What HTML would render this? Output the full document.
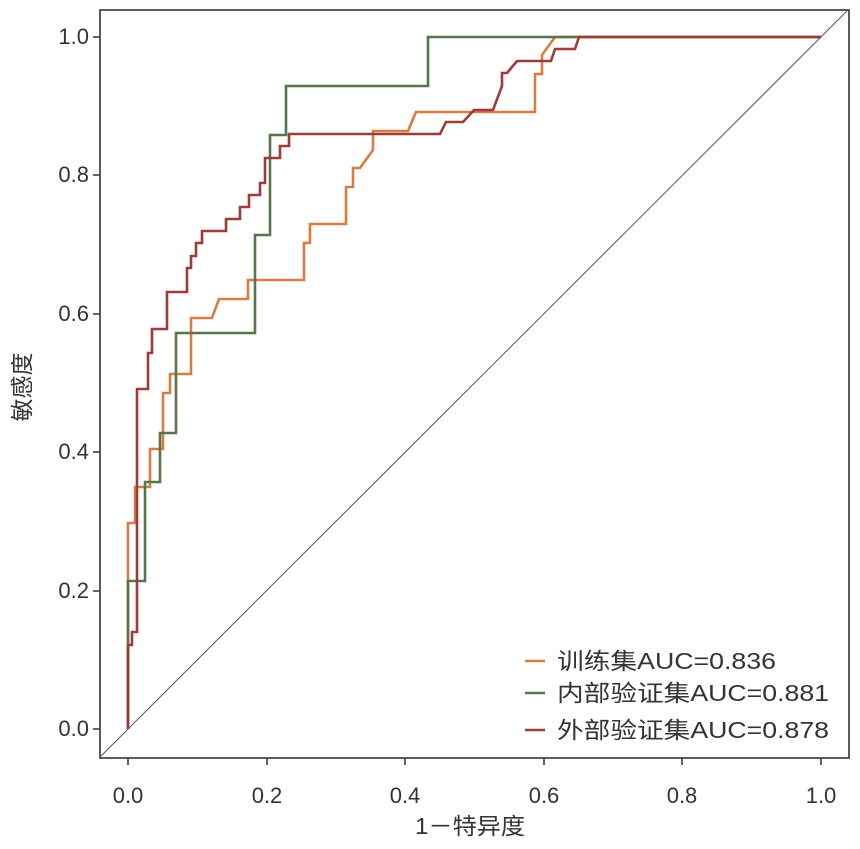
<!DOCTYPE html>
<html><head><meta charset="utf-8"><style>
html,body{margin:0;padding:0;background:#fff;}
svg{display:block;font-family:"Liberation Sans","Noto Sans CJK SC",sans-serif;}
</style></head><body>
<svg width="860" height="849" viewBox="0 0 860 849" xmlns="http://www.w3.org/2000/svg">
<defs><clipPath id="c"><rect x="101" y="11" width="748" height="746"/></clipPath></defs>
<g clip-path="url(#c)">
<line x1="100" y1="757" x2="850" y2="8" stroke="#555" stroke-width="1"/>
<polyline fill="none" stroke="#d97c43" stroke-width="2.6" stroke-linejoin="miter" points="128,729 128,523 135,523 135,487 150,487 150,449 163,449 163,393 170,393 170,374 191,374 191,318 212,318 219,299 248,299 248,280 304,280 304,243 310,243 310,224 346,224 346,187 353,187 353,168 360,168 373,150 373,131 408,131 416,112 535,112 535,74 542,74 542,55 555,37 821,37"/>
<polyline fill="none" stroke="#55754a" stroke-width="2.6" points="128,729 128,581 145,581 145,482 160,482 160,433 176,433 176,333 255,333 255,235 270,235 270,135 286,135 286,86 428,86 428,37 821,37"/>
<polyline fill="none" stroke="#9e3b38" stroke-width="2.6" points="128,729 128,645 132,645 132,632 137,632 137,389 148,389 148,353 152,353 152,329 167,329 167,292 187,292 187,268 191,268 191,256 196,256 196,243 202,243 202,231 226,231 226,219 240,219 240,207 249,207 249,195 260,195 260,183 265,183 265,158 280,158 280,146 289,146 289,134 440,134 446,122 463,122 474,110 493,110 502,86 502,73 507,73 517,61 551,61 555,49 575,49 579,37 821,37"/>
</g>
<rect x="100" y="10" width="749" height="748" fill="none" stroke="#333" stroke-width="1.6"/>
<g stroke="#333" stroke-width="1.5">
<line x1="128" y1="758" x2="128" y2="765"/><line x1="267" y1="758" x2="267" y2="765"/><line x1="405" y1="758" x2="405" y2="765"/><line x1="544" y1="758" x2="544" y2="765"/><line x1="682" y1="758" x2="682" y2="765"/><line x1="821" y1="758" x2="821" y2="765"/>
<line x1="93" y1="37" x2="100" y2="37"/><line x1="93" y1="175" x2="100" y2="175"/><line x1="93" y1="314" x2="100" y2="314"/><line x1="93" y1="452" x2="100" y2="452"/><line x1="93" y1="591" x2="100" y2="591"/><line x1="93" y1="729" x2="100" y2="729"/>
</g>
<g font-size="22" fill="#333" text-anchor="middle">
<text x="128" y="803">0.0</text><text x="267" y="803">0.2</text><text x="405" y="803">0.4</text><text x="544" y="803">0.6</text><text x="682" y="803">0.8</text><text x="821" y="803">1.0</text>
</g>
<g font-size="22" fill="#333" text-anchor="end">
<text x="89" y="44">1.0</text><text x="89" y="182">0.8</text><text x="89" y="321">0.6</text><text x="89" y="459">0.4</text><text x="89" y="598">0.2</text><text x="89" y="736">0.0</text>
</g>
<text x="470" y="834" font-size="23" fill="#333" text-anchor="middle" textLength="110" lengthAdjust="spacingAndGlyphs">1－特异度</text>
<text transform="translate(30,387) rotate(-90)" font-size="23" fill="#333" text-anchor="middle">敏感度</text>
<g font-size="23" fill="#333">
<line x1="525" y1="661" x2="545" y2="661" stroke="#d97c43" stroke-width="2.5"/><text x="557" y="669" textLength="219" lengthAdjust="spacingAndGlyphs">训练集AUC=0.836</text>
<line x1="525" y1="693" x2="545" y2="693" stroke="#55754a" stroke-width="2.5"/><text x="557" y="701" textLength="272" lengthAdjust="spacingAndGlyphs">内部验证集AUC=0.881</text>
<line x1="525" y1="730" x2="545" y2="730" stroke="#9e3b38" stroke-width="2.5"/><text x="557" y="738" textLength="272" lengthAdjust="spacingAndGlyphs">外部验证集AUC=0.878</text>
</g>
</svg>
</body></html>
